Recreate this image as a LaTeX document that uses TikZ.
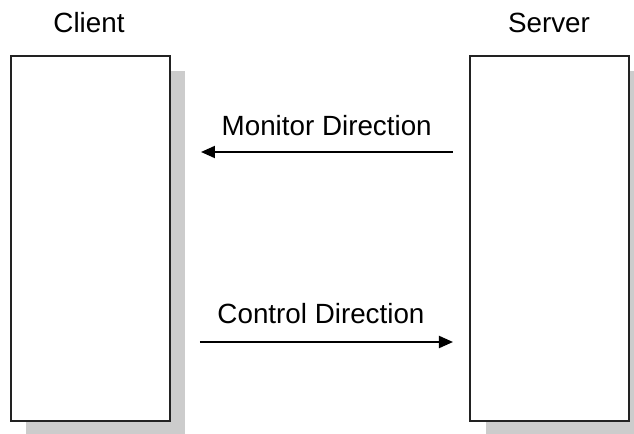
\documentclass[tikz,border=0pt]{standalone}
\usepackage{fontspec}
\setmainfont{Liberation Sans}
\usetikzlibrary{arrows.meta}

\begin{document}
\begin{tikzpicture}[x=0.5pt, y=-0.5pt,
    hostbox/.style={draw=borderColour, fill=white, line width=1pt,
        minimum width=79.5pt, minimum height=182.5pt, inner sep=0pt},
    hostshadow/.style={fill=shadowColour, draw=none,
        minimum width=79.5pt, minimum height=182.5pt, inner sep=0pt},
    label/.style={anchor=base, font=\fontsize{13.9}{16}\selectfont, inner sep=0pt},
    flow/.style={line width=1pt, -{Triangle[length=7pt, width=6pt]}}]

    \definecolor{borderColour}{HTML}{222222}
    \definecolor{shadowColour}{HTML}{CCCCCC}

    % Fix the page size
    \useasboundingbox (0,0) rectangle (634,434);

    % Draw shadows behind the boxes
    \node[hostshadow] (clientShadow) at (106,253.5) {};
    \node[hostshadow] (serverShadow) at (566,253.5) {};

    % Draw client and server boxes
    \node[hostbox] (client) at (90.5,238.5) {};
    \node[hostbox] (server) at (550,238.5) {};

    % Box titles
    \node[label] (clientLabel) at (89,32) {Client};
    \node[label] (serverLabel) at (549,32) {Server};

    % Define the arrow end points
    \coordinate (monitorStart) at (453,152);
    \coordinate (monitorEnd) at (201,152);
    \coordinate (controlStart) at (200,342);
    \coordinate (controlEnd) at (453,342);

    % Draw the two directions
    \draw[flow] (monitorStart) -- (monitorEnd);
    \draw[flow] (controlStart) -- (controlEnd);

    % Label the directions
    \node[label] (monitorLabel) at (326.7,135.5) {Monitor Direction};
    \node[label] (controlLabel) at (321,323) {Control Direction};

\end{tikzpicture}
\end{document}
